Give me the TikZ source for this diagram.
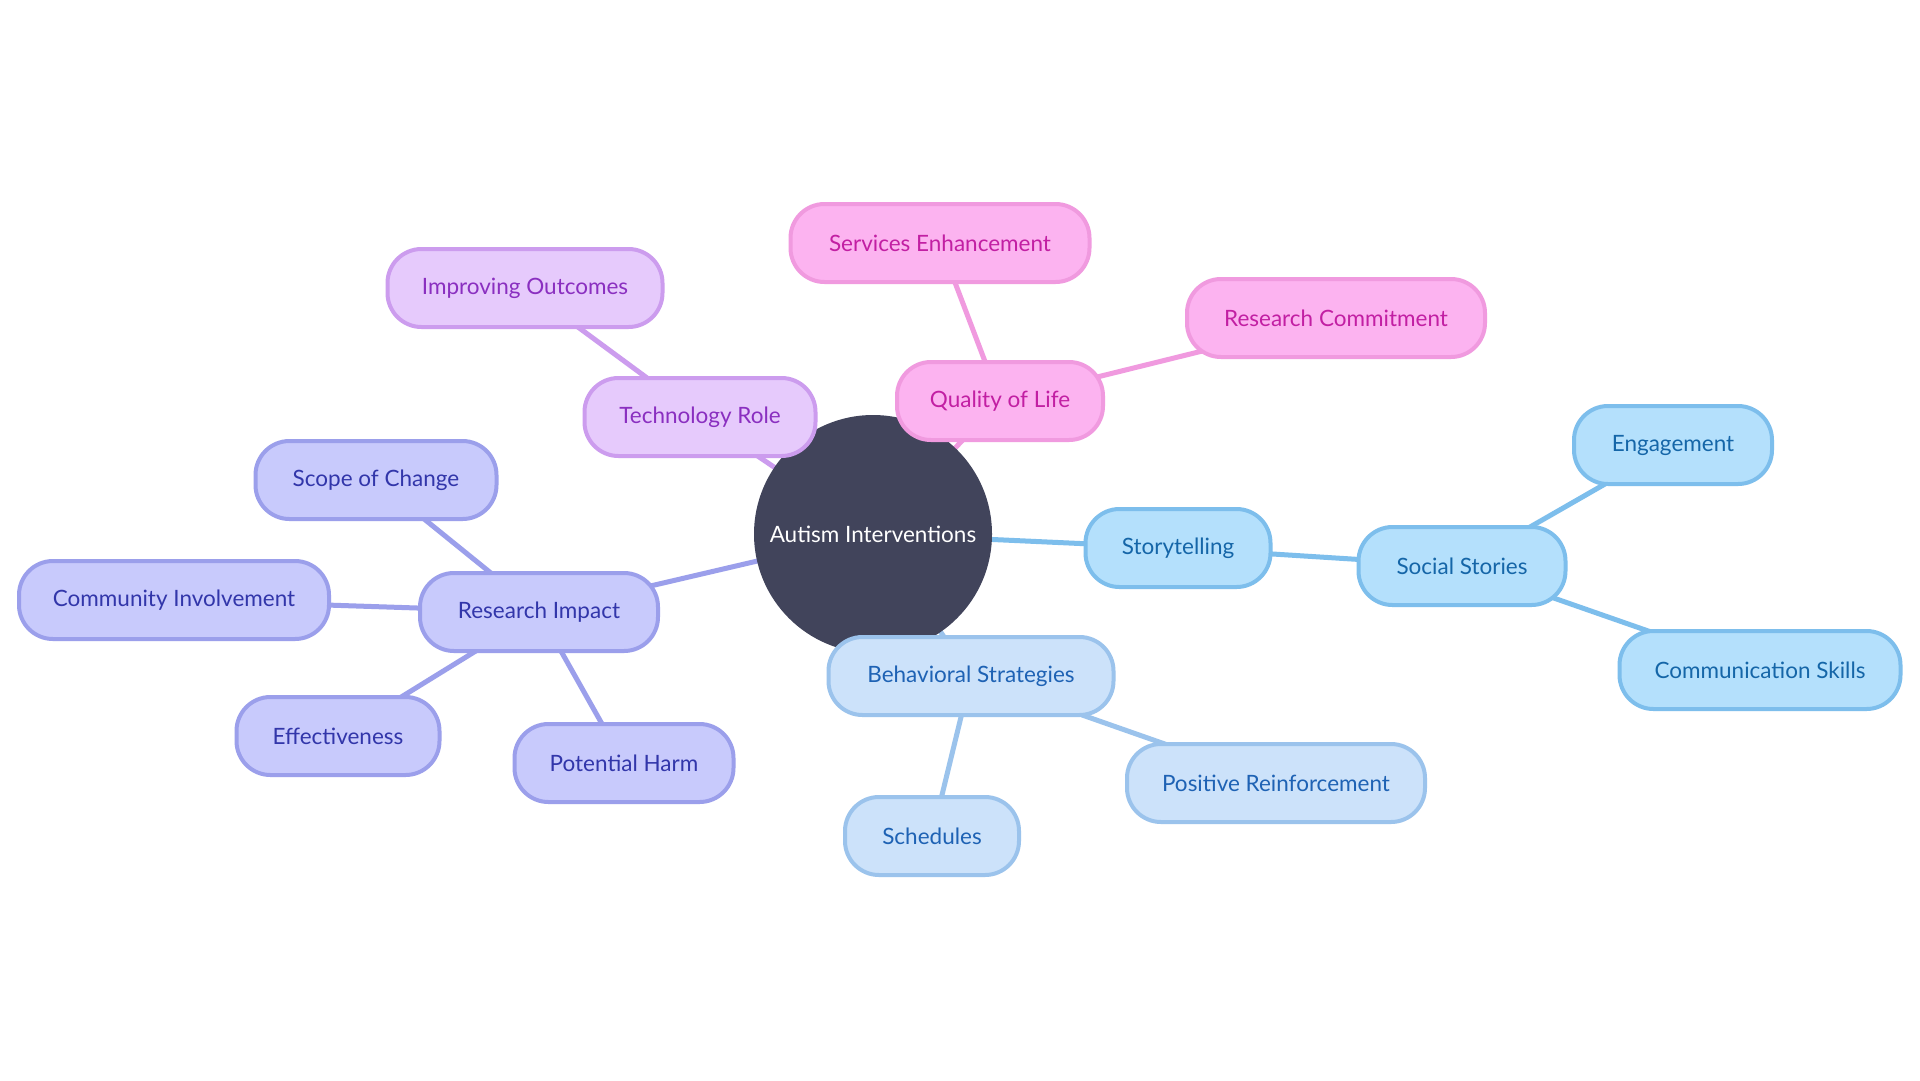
\documentclass[tikz,border=0pt]{standalone}
\usepackage{fontspec}
\setmainfont{Lato}
\usetikzlibrary{backgrounds}
\definecolor{cdark}{HTML}{41445B}
\definecolor{pfill}{HTML}{E6CAFC}
\definecolor{pline}{HTML}{CC9CEE}
\definecolor{ptext}{HTML}{8A2FC0}
\definecolor{mfill}{HTML}{FCB3F0}
\definecolor{mline}{HTML}{F09ADF}
\definecolor{mtext}{HTML}{C21FA3}
\definecolor{bfill}{HTML}{B4E0FC}
\definecolor{bline}{HTML}{7DBEEC}
\definecolor{btext}{HTML}{1566A8}
\definecolor{lfill}{HTML}{CCE2FA}
\definecolor{lline}{HTML}{9BC3EC}
\definecolor{ltext}{HTML}{1E62B4}
\definecolor{vfill}{HTML}{C8CAFC}
\definecolor{vline}{HTML}{9B9FEB}
\definecolor{vtext}{HTML}{3236AA}
\tikzset{
  mm/.style={rectangle, rounded corners=34pt, line width=4pt, minimum height=78pt,
    inner sep=0pt, font=\fontsize{22.5}{26}\selectfont},
  purp/.style={mm, fill=pfill, draw=pline, text=ptext},
  pink/.style={mm, fill=mfill, draw=mline, text=mtext},
  blu/.style={mm, fill=bfill, draw=bline, text=btext},
  lblu/.style={mm, fill=lfill, draw=lline, text=ltext},
  viol/.style={mm, fill=vfill, draw=vline, text=vtext},
  edge/.style={line width=5pt},
}
\begin{document}
\begin{tikzpicture}[x=1pt,y=-1pt]
\useasboundingbox (0,0) rectangle (1920,1080);

\node[circle, fill=cdark, minimum size=238pt, inner sep=0pt, text=white,
  font=\fontsize{22.5}{26}\selectfont] (center) at (873,534) {Autism Interventions};

% purple branch
\node[purp, minimum width=231pt] (tech) at (700,417) {Technology Role};
\node[purp, minimum width=275pt] (improv) at (525,288) {Improving Outcomes};

% pink branch
\node[pink, minimum width=206pt] (qol) at (1000,401) {Quality of Life};
\node[pink, minimum width=299pt] (serv) at (940,243) {Services Enhancement};
\node[pink, minimum width=298pt] (rcom) at (1336,318) {Research Commitment};

% blue branch
\node[blu, minimum width=185pt] (story) at (1178,548) {Storytelling};
\node[blu, minimum width=207pt] (social) at (1462,566) {Social Stories};
\node[blu, minimum width=198pt] (engage) at (1673,445) {Engagement};
\node[blu, minimum width=281pt] (comm) at (1760,670) {Communication Skills};

% light blue branch
\node[lblu, minimum width=285pt] (behav) at (971,676) {Behavioral Strategies};
\node[lblu, minimum width=174pt] (sched) at (932,836) {Schedules};
\node[lblu, minimum width=298pt] (posre) at (1276,783) {Positive Reinforcement};

% violet branch
\node[viol, minimum width=238pt] (rimp) at (539,612) {Research Impact};
\node[viol, minimum width=241pt] (scope) at (376,480) {Scope of Change};
\node[viol, minimum width=310pt] (cinv) at (174,600) {Community Involvement};
\node[viol, minimum width=203pt] (effec) at (338,736) {Effectiveness};
\node[viol, minimum width=219pt] (harm) at (624,763) {Potential Harm};

\begin{pgfonlayer}{background}
  \fill[white] (0,0) rectangle (1920,1080);
  \draw[edge, pline] (center.center) -- (tech.center);
  \draw[edge, pline] (tech.center) -- (improv.center);
  \draw[edge, mline] (center.center) -- (qol.center);
  \draw[edge, mline] (qol.center) -- (serv.center);
  \draw[edge, mline] (qol.center) -- (rcom.center);
  \draw[edge, bline] (center.center) -- (story.center);
  \draw[edge, bline] (story.center) -- (social.center);
  \draw[edge, bline] (social.center) -- (engage.center);
  \draw[edge, bline] (social.center) -- (comm.center);
  \draw[edge, lline] (center.center) -- (behav.center);
  \draw[edge, lline] (behav.center) -- (sched.center);
  \draw[edge, lline] (behav.center) -- (posre.center);
  \draw[edge, vline] (center.center) -- (rimp.center);
  \draw[edge, vline] (rimp.center) -- (scope.center);
  \draw[edge, vline] (rimp.center) -- (cinv.center);
  \draw[edge, vline] (rimp.center) -- (effec.center);
  \draw[edge, vline] (rimp.center) -- (harm.center);
\end{pgfonlayer}
\end{tikzpicture}
\end{document}
